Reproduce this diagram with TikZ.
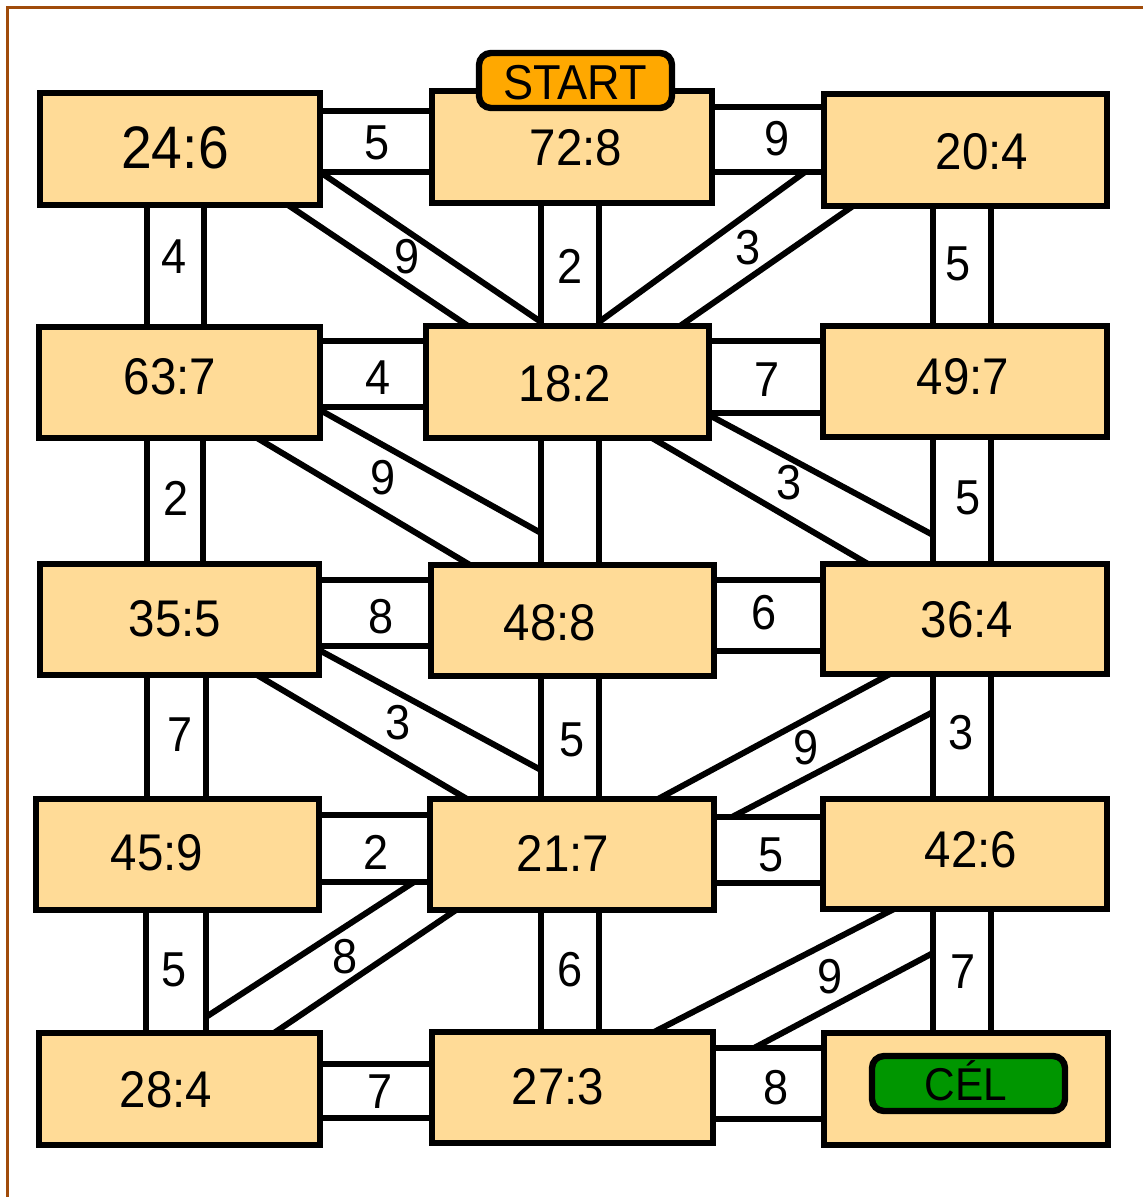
\documentclass[tikz,border=0pt]{standalone}
\usepackage{fontspec}
\setmainfont[FakeStretch=0.92]{Liberation Sans}
\usetikzlibrary{fit}
\definecolor{boxfill}{RGB}{255,219,151}
\definecolor{startfill}{RGB}{255,168,0}
\definecolor{goalfill}{RGB}{0,150,0}
\definecolor{framebrown}{RGB}{160,75,10}
\pgfdeclarelayer{bg}
\pgfsetlayers{bg,main}
\begin{document}
\begin{tikzpicture}[x=0.5pt,y=-0.5pt,
  box/.style={draw, line width=3.2pt, fill=boxfill, inner sep=0pt, outer sep=0pt},
  br/.style={line width=3pt},
  num/.style={font=\fontsize{24.5}{26}\selectfont, inner sep=0pt},
  boxtxt/.style={font=\fontsize{25.8}{28}\selectfont, inner sep=0pt},
  bigtxt/.style={font=\fontsize{30}{32}\selectfont, inner sep=0pt},
  tag/.style={draw, line width=3.2pt, rounded corners=6pt, inner sep=0pt, outer sep=0pt},
  tagtxt/.style={font=\fontsize{24.5}{26}\selectfont, inner sep=0pt, anchor=base}]
\useasboundingbox (0,0) rectangle (1143,1197);
\draw[framebrown, line width=1.5pt] (7,1197) -- (7,8) -- (1143,8);

% boxes
\node[box, fit={(40,93) (320,205)}] (b11) {};
\node[box, fit={(432,91) (712,203)}] (b12) {};
\node[box, fit={(824,94) (1107,206)}] (b13) {};
\node[box, fit={(39,327) (320,438)}] (b21) {};
\node[box, fit={(426,326) (709,438)}] (b22) {};
\node[box, fit={(823,326) (1107,437)}] (b23) {};
\node[box, fit={(40,564) (319,675)}] (b31) {};
\node[box, fit={(431,565) (714,676)}] (b32) {};
\node[box, fit={(823,564) (1107,674)}] (b33) {};
\node[box, fit={(36,799) (319,910)}] (b41) {};
\node[box, fit={(430,799) (714,910)}] (b42) {};
\node[box, fit={(823,799) (1107,909)}] (b43) {};
\node[box, fit={(39,1033) (320,1145)}] (b51) {};
\node[box, fit={(432,1032) (713,1143)}] (b52) {};
\node[box, fit={(824,1033) (1108,1145)}] (b53) {};

% box texts
\node[bigtxt] (t11) at (175,148) {24:6};
\node[boxtxt] (t12) at (576,148) {72:8};
\node[boxtxt] (t13) at (982,152) {20:4};
\node[boxtxt] (t21) at (170,377) {63:7};
\node[boxtxt] (t22) at (565,384) {18:2};
\node[boxtxt] (t23) at (963,377) {49:7};
\node[boxtxt] (t31) at (175,619) {35:5};
\node[boxtxt] (t32) at (550,623) {48:8};
\node[boxtxt] (t33) at (967,620) {36:4};
\node[boxtxt] (t41) at (157,853) {45:9};
\node[boxtxt] (t42) at (563,853) {21:7};
\node[boxtxt] (t43) at (971,850) {42:6};
\node[boxtxt] (t51) at (166,1090) {28:4};
\node[boxtxt] (t52) at (558,1087) {27:3};

% start and goal tags
\node[tag, fill=startfill, fit={(479,53) (672,108)}] (start) {};
\node[tagtxt] (starttxt) at (575,100) {START};
\node[tag, fill=goalfill, fit={(872,1056) (1065,1111)}] (goal) {};
\node[tagtxt, font=\fontsize{23}{25}\selectfont] (goaltxt) at (966,1100) {CÉL};

\begin{pgfonlayer}{bg}
% horizontal bridges
\draw[br] (b11.east |- 0,111) -- (b12.west |- 0,111);
\draw[br] (b11.east |- 0,172) -- (b12.west |- 0,172);
\draw[br] (b12.east |- 0,107) -- (b13.west |- 0,107);
\draw[br] (b12.east |- 0,172) -- (b13.west |- 0,172);
\draw[br] (b21.east |- 0,341) -- (b22.west |- 0,341);
\draw[br] (b21.east |- 0,407) -- (b22.west |- 0,407);
\draw[br] (b22.east |- 0,341) -- (b23.west |- 0,341);
\draw[br] (b22.east |- 0,413) -- (b23.west |- 0,413);
\draw[br] (b31.east |- 0,580) -- (b32.west |- 0,580);
\draw[br] (b31.east |- 0,646) -- (b32.west |- 0,646);
\draw[br] (b32.east |- 0,580) -- (b33.west |- 0,580);
\draw[br] (b32.east |- 0,651) -- (b33.west |- 0,651);
\draw[br] (b41.east |- 0,815) -- (b42.west |- 0,815);
\draw[br] (b41.east |- 0,882) -- (b42.west |- 0,882);
\draw[br] (b42.east |- 0,817) -- (b43.west |- 0,817);
\draw[br] (b42.east |- 0,883) -- (b43.west |- 0,883);
\draw[br] (b51.east |- 0,1064) -- (b52.west |- 0,1064);
\draw[br] (b51.east |- 0,1118) -- (b52.west |- 0,1118);
\draw[br] (b52.east |- 0,1048) -- (b53.west |- 0,1048);
\draw[br] (b52.east |- 0,1119) -- (b53.west |- 0,1119);
% vertical bridges, left column
\draw[br] (b11.south -| 147,0) -- (b21.north -| 147,0);
\draw[br] (b11.south -| 204,0) -- (b21.north -| 204,0);
\draw[br] (b21.south -| 147,0) -- (b31.north -| 147,0);
\draw[br] (b21.south -| 203,0) -- (b31.north -| 203,0);
\draw[br] (b31.south -| 147,0) -- (b41.north -| 147,0);
\draw[br] (b31.south -| 206,0) -- (b41.north -| 206,0);
\draw[br] (b41.south -| 146,0) -- (b51.north -| 146,0);
\draw[br] (b41.south -| 206,0) -- (b51.north -| 206,0);
% vertical bridges, middle column
\draw[br] (b12.south -| 541,0) -- (b22.north -| 541,0);
\draw[br] (b12.south -| 599,0) -- (b22.north -| 599,0);
\draw[br] (b22.south -| 541,0) -- (b32.north -| 541,0);
\draw[br] (b22.south -| 599,0) -- (b32.north -| 599,0);
\draw[br] (b32.south -| 541,0) -- (b42.north -| 541,0);
\draw[br] (b32.south -| 599,0) -- (b42.north -| 599,0);
\draw[br] (b42.south -| 541,0) -- (b52.north -| 541,0);
\draw[br] (b42.south -| 599,0) -- (b52.north -| 599,0);
% vertical bridges, right column
\draw[br] (b13.south -| 933,0) -- (b23.north -| 933,0);
\draw[br] (b13.south -| 991,0) -- (b23.north -| 991,0);
\draw[br] (b23.south -| 933,0) -- (b33.north -| 933,0);
\draw[br] (b23.south -| 991,0) -- (b33.north -| 991,0);
\draw[br] (b33.south -| 933,0) -- (b43.north -| 933,0);
\draw[br] (b33.south -| 991,0) -- (b43.north -| 991,0);
\draw[br] (b43.south -| 933,0) -- (b53.north -| 933,0);
\draw[br] (b43.south -| 991,0) -- (b53.north -| 991,0);
% diagonal bridges
\draw[br] (b11.east |- 0,172) -- (541,322);
\draw[br] (b11.south -| 288,0) -- (b22.north -| 468,0);
\draw[br] (805,172) -- (599,322);
\draw[br] (b13.south -| 853,0) -- (b22.north -| 680,0);
\draw[br] (b21.east |- 0,410) -- (541,533);
\draw[br] (b21.south -| 257,0) -- (b32.north -| 470,0);
\draw[br] (b22.east |- 0,415) -- (933,535);
\draw[br] (b22.south -| 652,0) -- (b33.north -| 868,0);
\draw[br] (b31.east |- 0,650) -- (541,770);
\draw[br] (b31.south -| 257,0) -- (b42.north -| 467,0);
\draw[br] (b33.south -| 890,0) -- (b42.north -| 658,0);
\draw[br] (933,712) -- (732,817);
\draw[br] (414,882) -- (206,1017);
\draw[br] (b42.south -| 456,0) -- (b51.north -| 274,0);
\draw[br] (b43.south -| 894,0) -- (b52.north -| 654,0);
\draw[br] (933,953) -- (754,1048);
\end{pgfonlayer}

% bridge labels
\node[num] (h1) at (377,143) {5};
\node[num] (h2) at (777,139) {9};
\node[num] (h3) at (378,378) {4};
\node[num] (h4) at (767,380) {7};
\node[num] (h5) at (381,617) {8};
\node[num] (h6) at (764,613) {6};
\node[num] (h7) at (376,852) {2};
\node[num] (h8) at (771,855) {5};
\node[num] (h9) at (380,1092) {7};
\node[num] (h10) at (776,1088) {8};
\node[num] (v1) at (174,257) {4};
\node[num] (v2) at (176,498) {2};
\node[num] (v3) at (180,735) {7};
\node[num] (v4) at (174,970) {5};
\node[num] (v5) at (570,266) {2};
\node[num] (v6) at (572,740) {5};
\node[num] (v7) at (570,970) {6};
\node[num] (v8) at (958,264) {5};
\node[num] (v9) at (968,498) {5};
\node[num] (v10) at (961,733) {3};
\node[num] (v11) at (963,972) {7};
\node[num] (d1) at (407,257) {9};
\node[num] (d2) at (748,248) {3};
\node[num] (d3) at (383,478) {9};
\node[num] (d4) at (789,483) {3};
\node[num] (d5) at (398,723) {3};
\node[num] (d6) at (806,748) {9};
\node[num] (d7) at (345,957) {8};
\node[num] (d8) at (830,977) {9};
\end{tikzpicture}
\end{document}
